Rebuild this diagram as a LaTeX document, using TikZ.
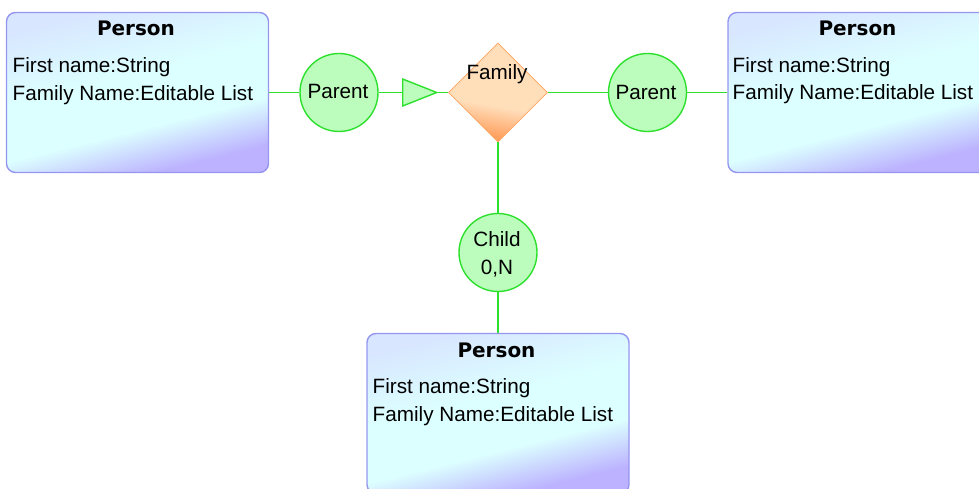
\documentclass[tikz,border=0pt]{standalone}
\usepackage{fontspec}
\setmainfont{Liberation Sans}
\newfontfamily\titlefont{DejaVu Sans}
\usetikzlibrary{shapes.geometric,backgrounds}
\definecolor{boxline}{HTML}{9696F0}
\definecolor{lb}{HTML}{D8E6FF}
\definecolor{cy}{HTML}{DCFFFF}
\definecolor{lav}{HTML}{BCB2FF}
\definecolor{grn}{HTML}{2EE02E}
\definecolor{grnfill}{HTML}{BCFCBC}
\definecolor{ortop}{HTML}{FFDEBA}
\definecolor{orbot}{HTML}{FFA262}
\definecolor{orline}{HTML}{FFA460}
\pgfdeclareverticalshading{personshade}{100bp}{color(0bp)=(lav); color(27bp)=(lav); color(40bp)=(cy); color(55bp)=(cy); color(75bp)=(lb); color(100bp)=(lb)}
\pgfdeclareverticalshading{famshade}{100bp}{color(0bp)=(orbot); color(28bp)=(orbot); color(43bp)=(ortop); color(100bp)=(ortop)}
\tikzset{
  personbox/.style={draw=boxline, line width=1.4pt, rounded corners=9pt,
    shading=personshade, shading angle=14, minimum width=262pt,
    minimum height=160pt, inner sep=0pt},
  role/.style={circle, draw=grn, fill=grnfill, line width=1.4pt,
    minimum size=78pt, inner sep=0pt},
  famnode/.style={diamond, draw=orline, line width=0.8pt, shading=famshade,
    shading angle=-10, minimum width=99pt, minimum height=99pt, inner sep=0pt},
  tri/.style={isosceles triangle, isosceles triangle stretches, draw=grn,
    fill=grnfill, line width=1.4pt, minimum width=27pt, minimum height=34pt,
    inner sep=0pt, anchor=lower side},
  conn/.style={draw=grn, line width=1.6pt},
  txt/.style={inner sep=0pt, font=\fontsize{20.7}{24}\selectfont},
  ttl/.style={inner sep=0pt, anchor=base, font=\fontsize{20}{24}\selectfont\titlefont\bfseries},
  attr/.style={txt, anchor=base west},
  ctr/.style={txt, anchor=base}
}
\begin{document}
\begin{tikzpicture}[x=1pt,y=-1pt]
\useasboundingbox (0,0) rectangle (979,489);
% entities
\node[personbox] (pl) at (137.5,92.5) {};
\node[personbox] (pr) at (859,92.5) {};
\node[personbox] (pb) at (498,413.5) {};
% relationship
\node[famnode] (fam) at (498,92.5) {};
% roles
\node[role] (parl) at (339,92.5) {};
\node[role] (parr) at (647.5,92.5) {};
\node[role] (child) at (498,252.5) {};
\node[tri] (arr) at (402,92.5) {};
% connectors
\begin{scope}[on background layer]
\draw[conn] (pl) -- (parl);
\draw[conn] (parl) -- (fam);
\draw[conn] (fam) -- (parr);
\draw[conn] (parr) -- (pr);
\draw[conn] (fam) -- (child);
\draw[conn] (child) -- (pb);
\end{scope}
% texts
\node[ttl] (tl) at (136,36) {Person};
\node[attr] (al1) at (12.5,73) {First name:String};
\node[attr] (al2) at (12.5,100.5) {Family Name:Editable List};
\node[ttl] (tr) at (857.5,36) {Person};
\node[attr] (ar1) at (732.5,72.5) {First name:String};
\node[attr] (ar2) at (732.5,100) {Family Name:Editable List};
\node[ttl] (tb) at (496.5,357) {Person};
\node[attr] (ab1) at (372.5,393) {First name:String};
\node[attr] (ab2) at (372.5,421.5) {Family Name:Editable List};
\node[ctr] (lfam) at (497,80) {Family};
\node[ctr] (lpl) at (338,99) {Parent};
\node[ctr] (lpr) at (646,99.5) {Parent};
\node[ctr] (lc1) at (497,246) {Child};
\node[ctr] (lc2) at (497,274) {0,N};
\end{tikzpicture}
\end{document}
